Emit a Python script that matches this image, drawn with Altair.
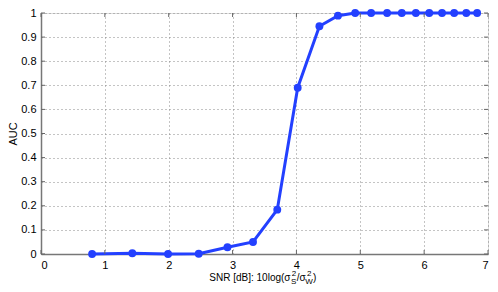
import altair as alt
import pandas as pd

snr = [0.80, 1.43, 1.99, 2.47, 2.92, 3.32, 3.70, 4.02, 4.36, 4.65,
       4.92, 5.17, 5.42, 5.65, 5.87, 6.08, 6.28, 6.47, 6.66, 6.83]
auc = [0.0, 0.003, 0.0, 0.001, 0.028, 0.05, 0.184, 0.69, 0.945, 0.989,
       1.0, 1.0, 1.0, 1.0, 1.0, 1.0, 1.0, 1.0, 1.0, 1.0]
x_ticks = [0, 1, 2, 3, 4, 5, 6, 7]
y_ticks = [0, 0.1, 0.2, 0.3, 0.4, 0.5, 0.6, 0.7, 0.8, 0.9, 1.0]

W, H = 447, 241
BLUE = "#2340ff"
FONT = "Liberation Sans"

df = pd.DataFrame({"snr": snr, "auc": auc})
xt = pd.DataFrame({"snr": x_ticks})
yt = pd.DataFrame({"auc": y_ticks})

xs = alt.Scale(domain=[0, 7], nice=False)
ys = alt.Scale(domain=[0, 1], nice=False)

xax = alt.Axis(values=x_ticks, ticks=False, grid=True, gridDash=[1, 3], gridColor="#888",
               domainColor="#777", domainWidth=1.5, labelPadding=5, labelFontSize=11,
               labelColor="black", labelFont=FONT, format="~g", title=None)
yax = alt.Axis(values=y_ticks, ticks=False, grid=True, gridDash=[1, 3], gridColor="#888",
               domainColor="#777", domainWidth=1.5, labelPadding=5, labelFontSize=11,
               labelColor="black", labelFont=FONT, format="~g",
               title="AUC", titleFont=FONT, titleFontSize=11, titleFontWeight="normal",
               titlePadding=2, titleColor="black")

X = alt.X("snr:Q", scale=xs, axis=xax)
Y = alt.Y("auc:Q", scale=ys, axis=yax)

line = alt.Chart(df).mark_line(color=BLUE, strokeWidth=3).encode(x=X, y=Y)
pts = alt.Chart(df).mark_circle(color=BLUE, size=62, opacity=1).encode(x=X, y=Y)

tick_color = "#666"
xb = alt.Chart(xt).mark_rule(color=tick_color).encode(
    x=X, y=alt.value(H), y2=alt.value(H - 4))
xtp = alt.Chart(xt).mark_rule(color=tick_color).encode(
    x=X, y=alt.value(0), y2=alt.value(4))
yl = alt.Chart(yt).mark_rule(color=tick_color).encode(
    y=Y, x=alt.value(0), x2=alt.value(4))
yr = alt.Chart(yt).mark_rule(color=tick_color).encode(
    y=Y, x=alt.value(W - 4), x2=alt.value(W))

def txt(s, x, y, size=10):
    return alt.Chart(pd.DataFrame({"s": [s]})).mark_text(
        align="left", baseline="alphabetic", font=FONT, fontSize=size, color="black"
    ).encode(text="s:N", x=alt.value(x), y=alt.value(y))

bx = 168.3   # page 209.3
by = 268
title_layers = [
    txt("SNR [dB]: 10log(σ", bx, by),
    txt("2", bx + 82.4, by - 5, 8),
    txt("S", bx + 81.8, by + 2.5, 8),
    txt("/σ", bx + 87.4, by),
    txt("2", bx + 97.6, by - 5, 8),
    txt("W", bx + 96.0, by + 2.5, 8),
    txt(")", bx + 103.8, by),
]

chart = alt.layer(line, xb, xtp, yl, yr, pts, *title_layers).properties(
    width=W, height=H,
    autosize=alt.AutoSizeParams(type="none"),
    padding={"left": 33, "top": 5, "right": 2, "bottom": 30},
).configure_view(stroke="#222", strokeWidth=1).configure(background="white")

chart.save("out.html", embed_options={"renderer": "svg", "actions": False})
